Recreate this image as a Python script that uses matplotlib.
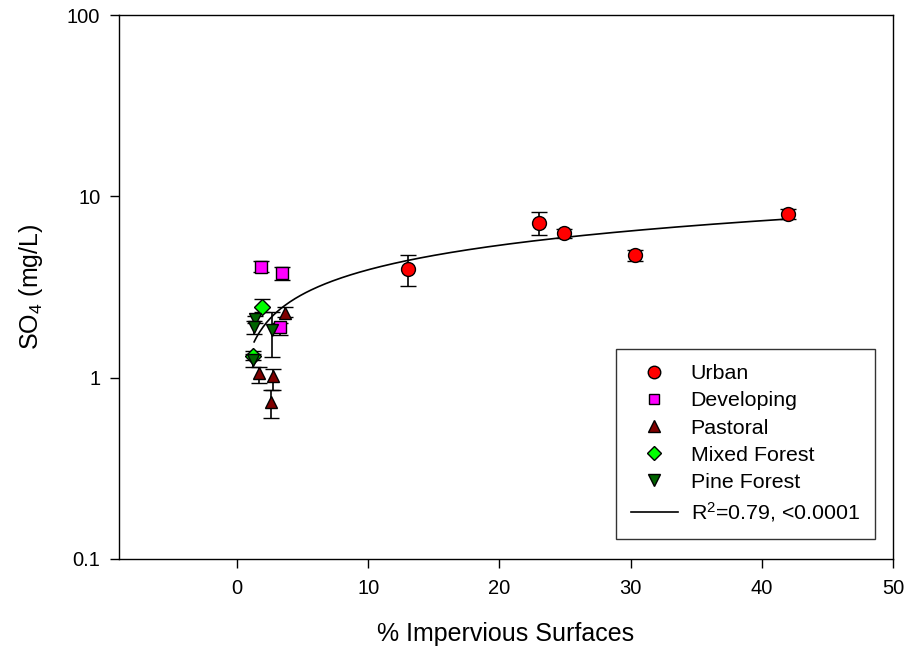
import numpy as np
import matplotlib.pyplot as plt
from matplotlib.lines import Line2D

plt.rcParams['font.family'] = ['Liberation Sans', 'DejaVu Sans']
plt.rcParams['mathtext.default'] = 'regular'

# land use groups: x = % impervious, y = SO4 mean, lo/hi = error bar ends
urban_x = [13.0, 23.0, 24.9, 30.3, 42.0]
urban_y = [3.98, 7.16, 6.26, 4.75, 8.03]
urban_lo = [3.2, 6.12, 5.9, 4.4, 7.5]
urban_hi = [4.75, 8.2, 6.6, 5.06, 8.5]

dev_x = [1.8, 3.4, 3.3]
dev_y = [4.1, 3.77, 1.9]
dev_lo = [3.83, 3.46, 1.71]
dev_hi = [4.4, 4.1, 2.01]

past_x = [3.66, 1.70, 2.73, 2.57]
past_y = [2.27, 1.06, 1.02, 0.73]
past_lo = [2.15, 0.935, 0.855, 0.60]
past_hi = [2.46, 1.15, 1.12, 0.85]

mixed_x = [1.93, 1.2]
mixed_y = [2.46, 1.32]
mixed_lo = [2.3, 1.25]
mixed_hi = [2.7, 1.4]

pine_x = [1.4, 1.3, 2.65, 1.2]
pine_y = [2.11, 1.91, 1.83, 1.25]
pine_lo = [2.0, 1.75, 1.3, 1.15]
pine_hi = [2.19, 2.05, 2.3, 1.35]

# power fit y = a * x^b
fit_a, fit_b = 1.40, 0.449
fit_xmin, fit_xmax = 1.3, 42.0

fig = plt.figure(figsize=(9.07, 6.52), dpi=100)
ax = fig.add_axes([119/907, 1 - 559/652, (893-119)/907, (559-15)/652])

handles = []
def group(x, y, lo, hi, marker, color, label, ms):
    y = np.array(y)
    err = [y - np.array(lo), np.array(hi) - y]
    ax.errorbar(x, y, yerr=err, fmt=marker, color='black', ecolor='black',
                mfc=color, mec='black', mew=1.0, ms=ms, capsize=6,
                elinewidth=1.2, capthick=1.2)
    handles.append(Line2D([], [], ls='none', marker=marker, mfc=color,
                          mec='black', mew=1.0, ms=ms * 0.9, label=label))

group(urban_x, urban_y, urban_lo, urban_hi, 'o', '#ff0000', 'Urban', 10)
group(dev_x, dev_y, dev_lo, dev_hi, 's', '#ff00ff', 'Developing', 8.5)
group(past_x, past_y, past_lo, past_hi, '^', '#800000', 'Pastoral', 9)
group(mixed_x, mixed_y, mixed_lo, mixed_hi, 'D', '#00ff00', 'Mixed Forest', 8)
group(pine_x, pine_y, pine_lo, pine_hi, 'v', '#006400', 'Pine Forest', 9)

xf = np.linspace(fit_xmin, fit_xmax, 300)
fit_line, = ax.plot(xf, fit_a * xf ** fit_b, color='black', lw=1.2,
                    label='R$^2$=0.79, <0.0001')
handles.append(fit_line)

ax.set_yscale('log')
ax.set_xlim(-9, 50)
ax.set_ylim(0.1, 100)
ax.set_xticks([0, 10, 20, 30, 40, 50])
ax.set_yticks([0.1, 1, 10, 100])
ax.set_yticklabels(['0.1', '1', '10', '100'])
ax.minorticks_off()
ax.tick_params(direction='out', length=6.5, width=1, labelsize=14.5)
ax.tick_params(axis='x', pad=8)
ax.tick_params(axis='y', pad=7)
for s in ax.spines.values():
    s.set_linewidth(1.0)

ax.set_xlabel('% Impervious Surfaces', fontsize=18, labelpad=17)
ax.set_ylabel('SO$_4$ (mg/L)', fontsize=18, labelpad=16)

leg = ax.legend(handles=handles, loc='upper left',
                bbox_to_anchor=((615.7-119)/774, (559-349.3)/544),
                fontsize=15.4, frameon=True, fancybox=False, edgecolor='black',
                handlelength=2.2, labelspacing=0.38, borderpad=0.7,
                handletextpad=0.6, borderaxespad=0)
leg.get_frame().set_linewidth(1.0)

fig.savefig('out.png', dpi=100)
